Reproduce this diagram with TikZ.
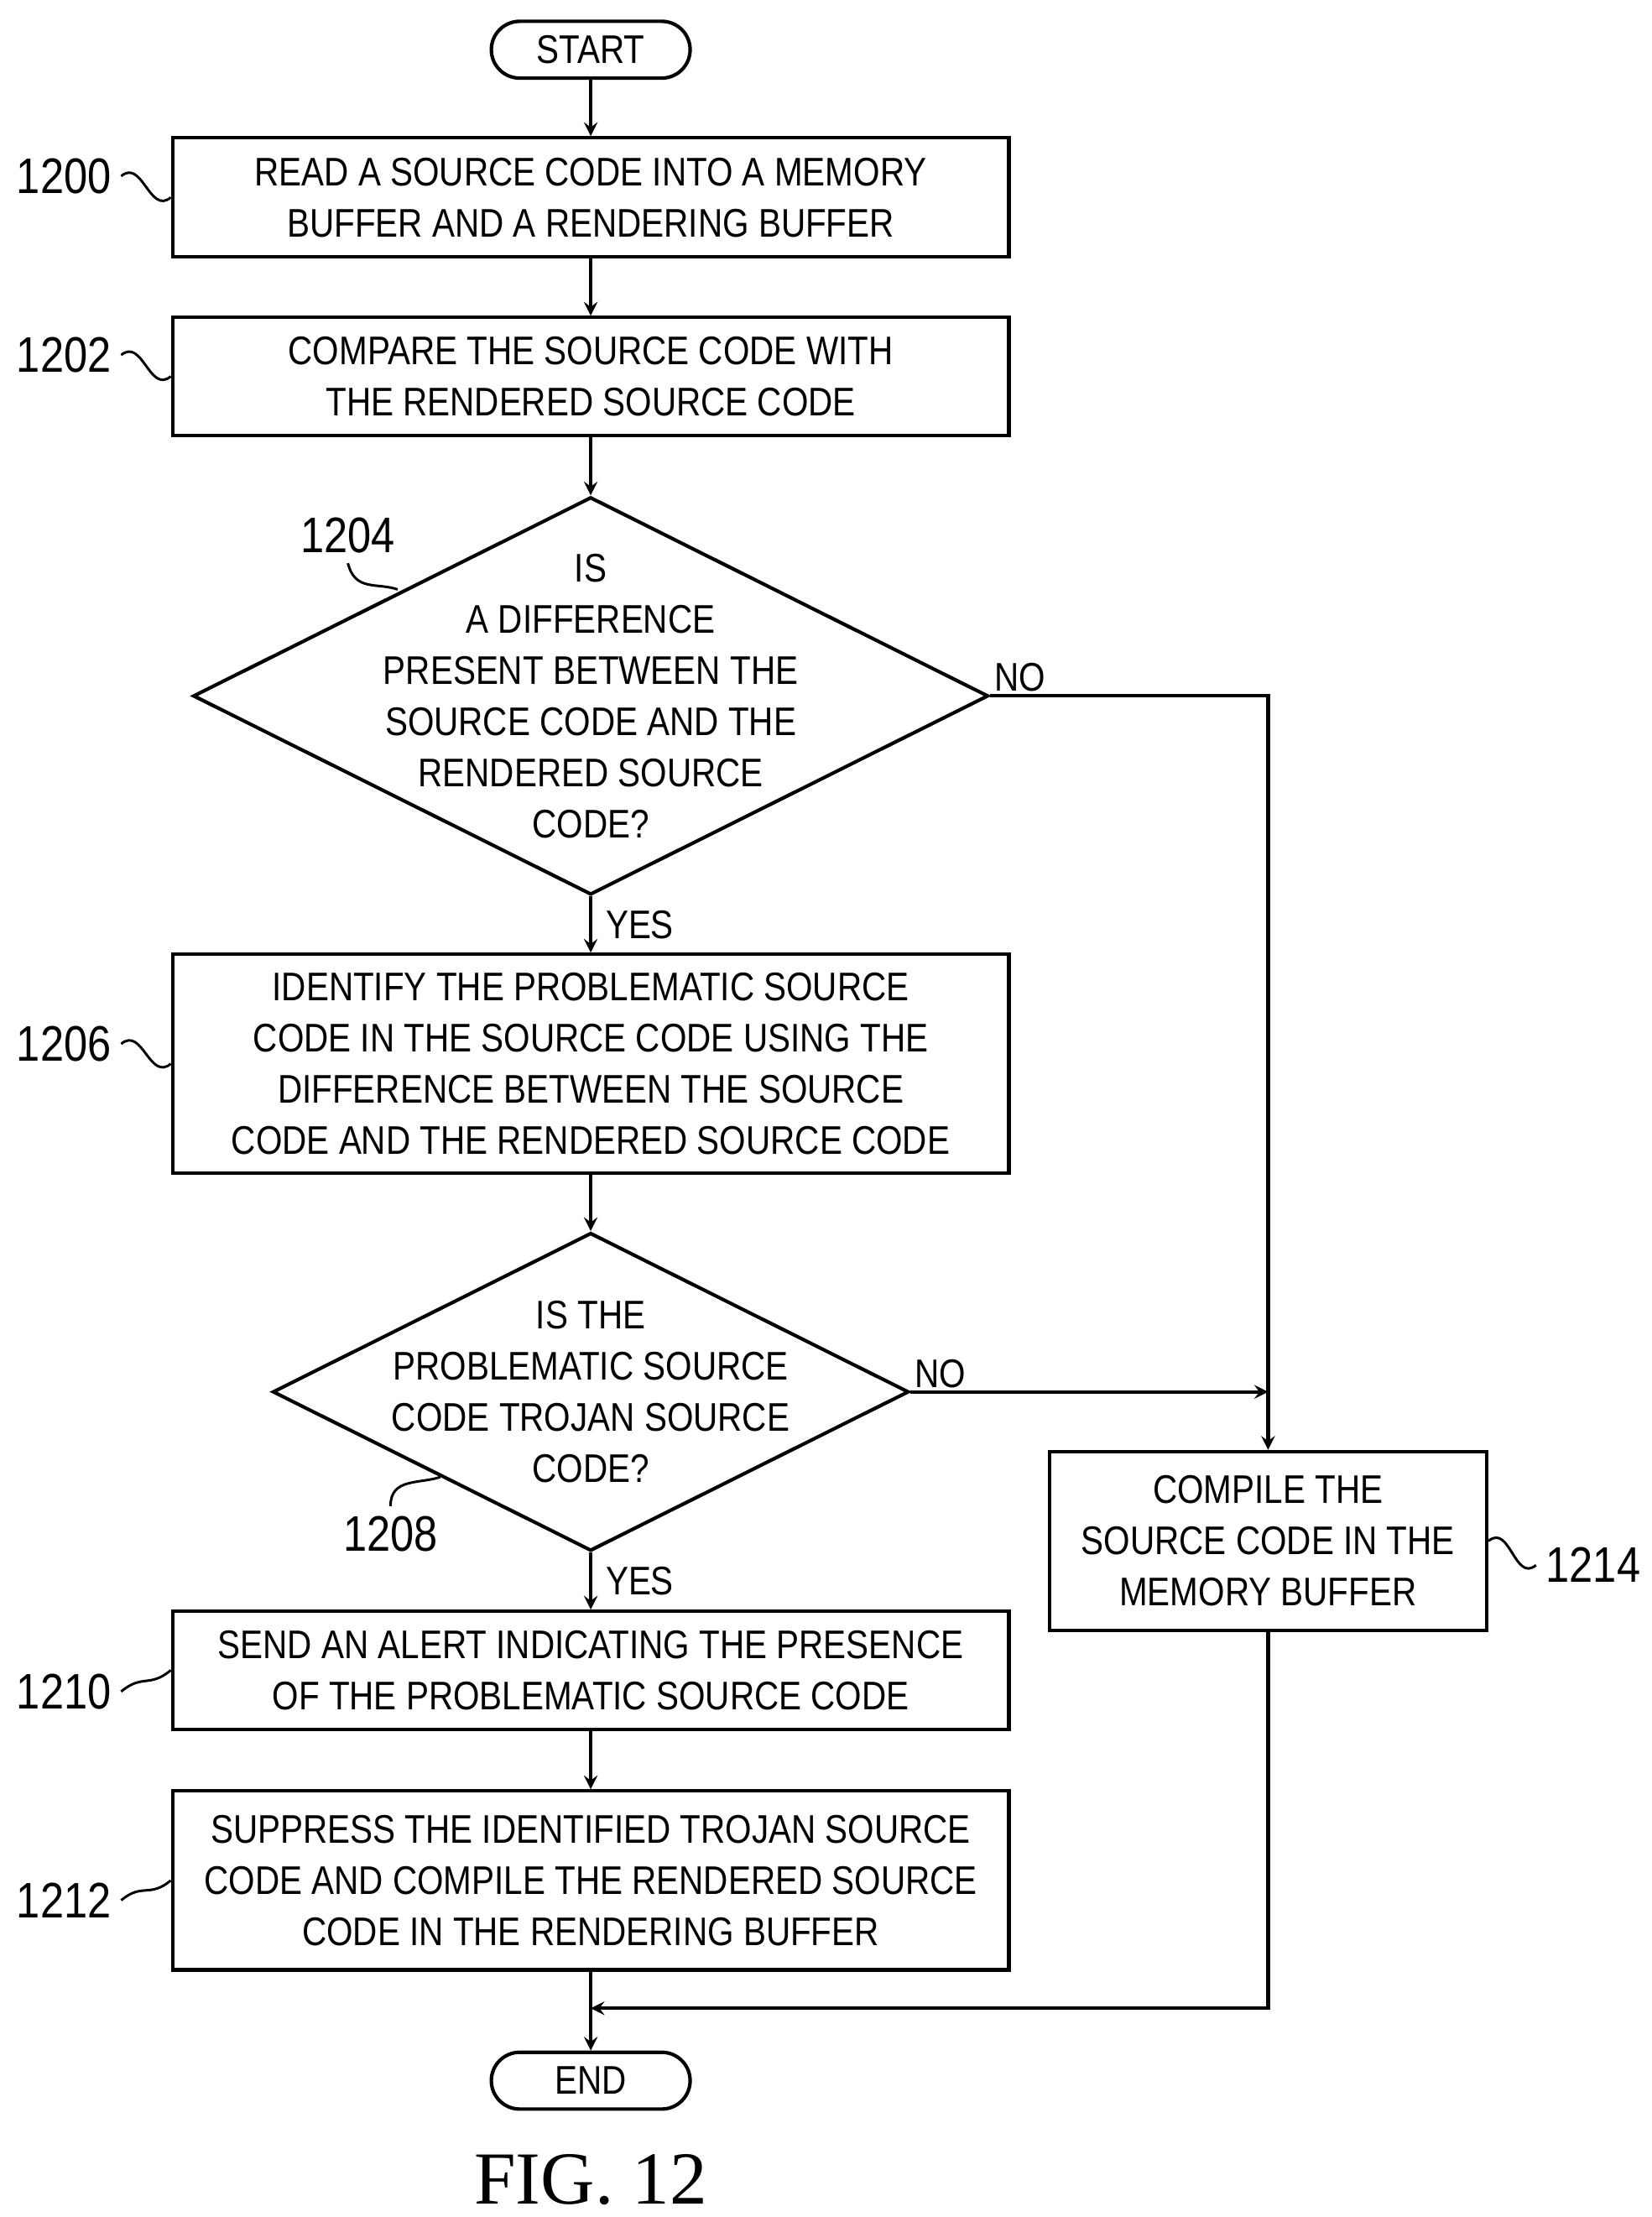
\documentclass[tikz,border=0pt]{standalone}
\usepackage{fontspec}
\setmainfont{Liberation Sans}[FakeStretch=0.85]
\newfontfamily\figfont{Liberation Serif}
\usetikzlibrary{shapes.geometric,positioning}
\begin{document}
\begin{tikzpicture}[line width=1.4pt,>=stealth,
  every node/.style={font=\fontsize{16}{20.5}\selectfont},
  proc/.style={rectangle, draw, minimum width=11.78cm, align=center, inner sep=0pt},
  term/.style={rounded corners=0.4cm, draw, minimum width=2.8cm, minimum height=0.8cm, inner sep=0pt},
  decide/.style={diamond, draw, inner sep=0pt},
  num/.style={font=\fontsize{20}{22}\selectfont}]
  \useasboundingbox (0,0) rectangle (23.26,-31.22);
  % Nodes
  \node[term] (start) at (8.32,-0.70) {START};
  \node[proc, minimum height=1.68cm] (b1200) at (8.32,-2.78) {READ A SOURCE CODE INTO A MEMORY\\BUFFER AND A RENDERING BUFFER};
  \node[proc, minimum height=1.66cm] (b1202) at (8.32,-5.30) {COMPARE THE SOURCE CODE WITH\\THE RENDERED SOURCE CODE};
  \node[decide, minimum width=11.2cm, minimum height=5.6cm] (d1204) at (8.32,-9.80) {};
  \node[align=center] (t1204) at (d1204) {IS\\A DIFFERENCE\\PRESENT BETWEEN THE\\SOURCE CODE AND THE\\RENDERED SOURCE\\CODE?};
  \node[proc, minimum height=3.08cm] (b1206) at (8.32,-14.98) {IDENTIFY THE PROBLEMATIC SOURCE\\CODE IN THE SOURCE CODE USING THE\\DIFFERENCE BETWEEN THE SOURCE\\CODE AND THE RENDERED SOURCE CODE};
  \node[decide, minimum width=8.96cm, minimum height=4.48cm] (d1208) at (8.32,-19.60) {};
  \node[align=center] (t1208) at (d1208) {IS THE\\PROBLEMATIC SOURCE\\CODE TROJAN SOURCE\\CODE?};
  \node[proc, minimum height=1.66cm] (b1210) at (8.32,-23.52) {SEND AN ALERT INDICATING THE PRESENCE\\OF THE PROBLEMATIC SOURCE CODE};
  \node[proc, minimum height=2.52cm] (b1212) at (8.32,-26.48) {SUPPRESS THE IDENTIFIED TROJAN SOURCE\\CODE AND COMPILE THE RENDERED SOURCE\\CODE IN THE RENDERING BUFFER};
  \node[term] (end) at (8.32,-29.30) {END};
  \node[proc, minimum width=6.16cm, minimum height=2.52cm] (b1214) at (17.86,-21.70) {COMPILE THE\\SOURCE CODE IN THE\\MEMORY BUFFER};
  \coordinate (c1) at (17.86,-9.80);
  \coordinate (c2) at (17.86,-19.60);
  \coordinate (c3) at (17.86,-28.28);
  \coordinate (c4) at (8.32,-28.28);
  % Arrows
  \draw[->] (start) -- (b1200);
  \draw[->] (b1200) -- (b1202);
  \draw[->] (b1202) -- (d1204.north);
  \draw[->] (d1204.south) -- node[right, xshift=2pt]{YES} (b1206);
  \draw[->] (b1206) -- (d1208.north);
  \draw[->] (d1208.south) -- node[right, xshift=2pt]{YES} (b1210);
  \draw[->] (b1210) -- (b1212);
  \draw[->] (b1212) -- (end);
  \draw[->] (d1204.east) -- (c1) -- (b1214.north);
  \draw[->] (d1208.east) -- (c2);
  \draw[->] (b1214.south) -- (c3) -- (c4);
  \node[anchor=south west, inner sep=1pt] (no1) at (d1204.east) {NO};
  \node[anchor=south west, inner sep=1pt] (no2) at (d1208.east) {NO};
  % Reference numbers
  \node[num] (n1200) at (0.9,-2.48) {1200};
  \node[num] (n1202) at (0.9,-5.00) {1202};
  \node[num] (n1206) at (0.9,-14.70) {1206};
  \node[num] (n1210) at (0.9,-23.82) {1210};
  \node[num] (n1212) at (0.9,-26.76) {1212};
  \node[num] (n1204) at (4.9,-7.54) {1204};
  \node[num] (n1208) at (5.5,-21.60) {1208};
  \node[num] (n1214) at (22.44,-22.04) {1214};
  \foreach \n/\b in {n1200/b1200,n1202/b1202,n1206/b1206,n1210/b1210,n1212/b1212}
    \draw[line width=1pt] (\n.east) .. controls +(0.3,0.25) and +(-0.3,-0.25) .. (\b.west);
  \draw[line width=1pt] (n1204.south) .. controls +(0.1,-0.4) and +(-0.3,0.1) .. (5.6,-8.30);
  \draw[line width=1pt] (n1208.north) .. controls +(0,0.4) and +(-0.3,-0.1) .. (6.2,-20.80);
  \draw[line width=1pt] (b1214.east) .. controls +(0.3,0.25) and +(-0.3,-0.25) .. (n1214.west);
  \node[font=\fontsize{30}{32}\selectfont\figfont] (fig) at (8.32,-30.70) {FIG. 12};
\end{tikzpicture}
\end{document}
